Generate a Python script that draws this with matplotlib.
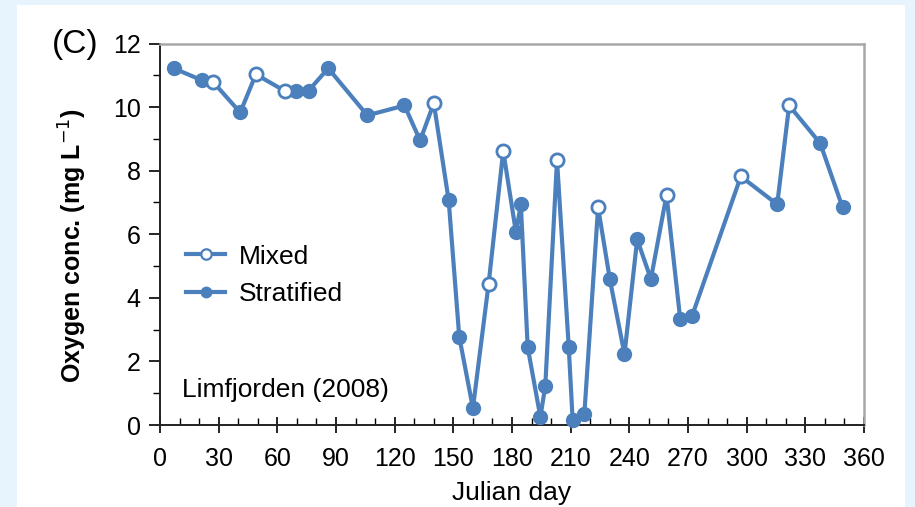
import matplotlib.pyplot as plt
from matplotlib.lines import Line2D
from matplotlib.patches import Rectangle
from matplotlib.ticker import MultipleLocator

plt.rcParams['font.family'] = ['Liberation Sans', 'DejaVu Sans']

# Julian day, oxygen (mg/L), water column state (M = mixed, S = stratified)
days = [7, 21.5, 27, 41, 49, 64, 69.5, 76, 86, 106, 125, 133, 140, 147.6,
        153, 160, 168, 175.5, 182, 184.5, 188, 194.5, 197, 203, 209, 211,
        217, 224, 230, 237.5, 244, 251, 259, 266, 272, 297, 315.6, 321.7,
        337.6, 349]
oxygen = [11.22, 10.84, 10.8, 9.83, 11.03, 10.5, 10.52, 10.52, 11.22, 9.74,
          10.05, 8.95, 10.12, 7.07, 2.78, 0.53, 4.43, 8.62, 6.06, 6.94, 2.45,
          0.25, 1.23, 8.33, 2.45, 0.15, 0.36, 6.85, 4.59, 2.23, 5.84, 4.59,
          7.23, 3.33, 3.42, 7.82, 6.94, 10.05, 8.86, 6.85]
state = ['S', 'S', 'M', 'S', 'M', 'M', 'S', 'S', 'S', 'S',
         'S', 'S', 'M', 'S', 'S', 'S', 'M', 'M', 'S', 'S', 'S',
         'S', 'S', 'M', 'S', 'S', 'S', 'M', 'S', 'S', 'S', 'S',
         'M', 'S', 'S', 'M', 'S', 'M', 'S', 'S']

blue = '#4b80bd'

fig = plt.figure(figsize=(9.15, 5.07), dpi=100, facecolor='#e7f3fd')
bg = Rectangle((17 / 915, 0), 888 / 915, 502 / 507,
               transform=fig.transFigure, facecolor='white',
               edgecolor='none', zorder=-10)
fig.add_artist(bg)
ax = fig.add_axes([0.1749, 0.1617, 0.7694, 0.7525])
ax.set_facecolor('white')

ax.plot(days, oxygen, color=blue, lw=3.0, zorder=2)
dm = [d for d, s in zip(days, state) if s == 'M']
om = [o for o, s in zip(oxygen, state) if s == 'M']
ds = [d for d, s in zip(days, state) if s == 'S']
os_ = [o for o, s in zip(oxygen, state) if s == 'S']
ax.plot(ds, os_, 'o', color=blue, ms=10, zorder=3, clip_on=False)
ax.plot(dm, om, 'o', mfc='white', mec=blue, mew=2.0, ms=9.5, zorder=3)

ax.set_xlim(0, 360)
ax.set_ylim(0, 12)
ax.xaxis.set_major_locator(MultipleLocator(30))
ax.xaxis.set_minor_locator(MultipleLocator(10))
ax.yaxis.set_major_locator(MultipleLocator(2))
ax.yaxis.set_minor_locator(MultipleLocator(1))
ax.tick_params(axis='x', which='major', direction='inout', length=12,
               width=1.2, labelsize=18, pad=10)
ax.tick_params(axis='x', which='minor', direction='in', length=5, width=1.0)
ax.tick_params(axis='y', which='major', direction='out', length=8,
               width=1.2, labelsize=18, pad=6)
ax.tick_params(axis='y', which='minor', direction='out', length=5, width=1.0)

for side in ['top', 'right']:
    ax.spines[side].set_color('#a8a8a8')
    ax.spines[side].set_linewidth(1.8)
for side in ['left', 'bottom']:
    ax.spines[side].set_color('#222222')
    ax.spines[side].set_linewidth(1.4)

ax.set_xlabel('Julian day', fontsize=19, labelpad=7)
ax.set_ylabel('Oxygen conc. (mg L$^{-1}$)', fontsize=18, fontweight='bold')
ax.yaxis.set_label_coords(-0.101, 0.47)

handles = [Line2D([], [], color=blue, lw=3.0, marker='o', mfc='white',
                  mec=blue, mew=1.6, ms=7.5),
           Line2D([], [], color=blue, lw=3.0, marker='o', ms=7.5)]
ax.legend(handles, ['Mixed', 'Stratified'], loc='upper left',
          bbox_to_anchor=(0.003, 0.535), frameon=False, fontsize=19,
          handlelength=1.5, handletextpad=0.5, labelspacing=0.5)

ax.text(0.031, 0.073, 'Limfjorden (2008)', transform=ax.transAxes,
        fontsize=19, va='baseline')
fig.text(52 / 915, 1 - 44 / 507, '(C)', fontsize=24, va='center')

fig.savefig('out.png', dpi=100, facecolor=fig.get_facecolor())
